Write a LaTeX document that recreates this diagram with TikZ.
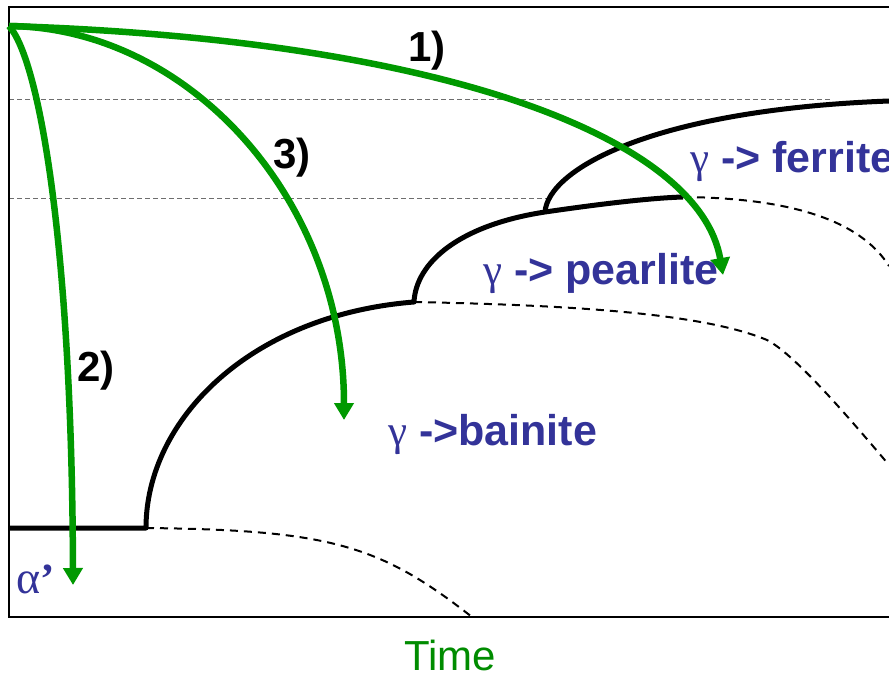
\documentclass[tikz,border=0pt]{standalone}
\usepackage{fontspec}
\setmainfont{Liberation Sans}
\newfontfamily\greekfont{Liberation Serif}
\usetikzlibrary{arrows.meta}
\definecolor{arrowgreen}{RGB}{0,153,0}
\definecolor{labelblue}{RGB}{51,51,153}
\definecolor{timegreen}{RGB}{0,140,0}
\definecolor{guidegray}{RGB}{110,110,110}
\begin{document}
\begin{tikzpicture}[x=1pt,y=-1pt,
  frame/.style={line width=2pt,line cap=rect},
  curve/.style={line width=5pt,line join=round},
  phasedash/.style={line width=2pt,dash pattern=on 8pt off 6pt},
  guide/.style={line width=1pt,guidegray,dash pattern=on 5pt off 3pt},
  cool/.style={line width=6.5pt,arrowgreen,-{Triangle[length=17pt,width=19pt]}},
  numlbl/.style={font=\fontsize{42}{48}\selectfont\bfseries,anchor=base west,inner sep=0pt},
  phaselbl/.style={font=\fontsize{43}{50}\selectfont\bfseries,text=labelblue,anchor=base west,inner sep=0pt}]
\useasboundingbox (0,0) rectangle (889,674);
\fill[white] (0,0) rectangle (889,674);
\clip (0,0) rectangle (889,674);

% key points
\coordinate (start) at (9,26);
\coordinate (ms) at (9,528);
\coordinate (bnose) at (146,528);
\coordinate (pnose) at (414,302);
\coordinate (fnose) at (545,212);
\coordinate (pend) at (683,197);
\coordinate (fend) at (889,101);
\coordinate (bmid) at (767,340);
\coordinate (g1a) at (9,100);
\coordinate (g1b) at (830,100);
\coordinate (g2a) at (9,198);
\coordinate (g2b) at (547,198);

% guide lines
\draw[guide] (g1a) -- (g1b);
\draw[guide] (g2a) -- (g2b);

% frame
\draw[frame] (889,7) -- (9,7) -- (9,617) -- (889,617);

% dashed continuations
\draw[phasedash] (bnose) .. controls (330,530) and (380,545) .. (472,617);
\draw[phasedash] (pnose) .. controls (560,305) and (700,312) .. (bmid)
                        .. controls (790,352) and (830,395) .. (889,465);
\draw[phasedash] (pend) .. controls (790,198) and (860,220) .. (889,266);

% solid transformation curves
\draw[curve] (ms) -- (bnose) .. controls (146,420) and (250,315) .. (pnose)
   .. controls (416,262) and (460,225) .. (fnose)
   .. controls (600,204) and (650,198) .. (pend);
\draw[curve] (fnose) .. controls (548,170) and (650,110) .. (fend);

% cooling paths
\coordinate (end1) at (723,275);
\coordinate (end2) at (73,585);
\coordinate (end3) at (344,420);
\draw[cool] (start) .. controls (450,40) and (700,140) .. (end1);
\draw[cool] (start) .. controls (40,60) and (72,250) .. (end2);
\draw[cool] (start) .. controls (190,28) and (344,200) .. (end3);

% labels
\node[numlbl] (l1) at (408,62) {1)};
\node[numlbl] (l2) at (77,381) {2)};
\node[numlbl] (l3) at (273,168) {3)};
\node[phaselbl] (ferrite) at (690,172) {{\greekfont\mdseries γ} -> ferrite};
\node[phaselbl] (pearlite) at (483,284) {{\greekfont\mdseries γ} -> pearlite};
\node[phaselbl] (bainite) at (388,445) {{\greekfont\mdseries γ} ->bainite};
\node[phaselbl] (mart) at (16,593) {{\greekfont\mdseries\fontsize{46}{50}\selectfont α}{\greekfont ’}};
\node[anchor=base west,inner sep=0pt,text=timegreen,font=\fontsize{42}{48}\selectfont] (time) at (404,670) {Time};
\end{tikzpicture}
\end{document}
